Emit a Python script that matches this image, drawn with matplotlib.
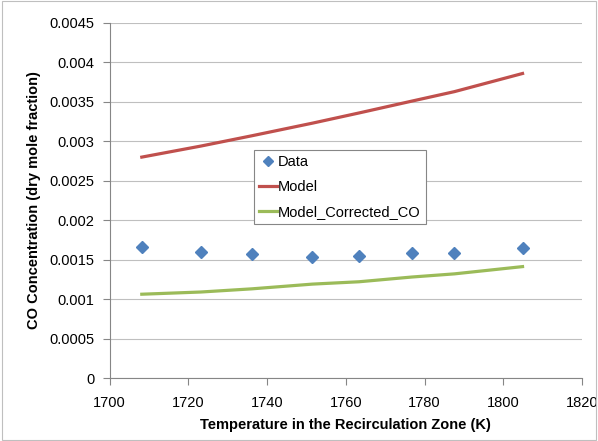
import matplotlib.pyplot as plt
from matplotlib.patches import Rectangle

plt.rcParams['font.family'] = ['Liberation Sans', 'DejaVu Sans']
plt.rcParams['font.size'] = 10

# temperatures of the recirculation zone (K)
temp = [1708.2, 1723.2, 1736.1, 1751.5, 1763.4, 1776.8, 1787.6, 1804.9]
data = [0.001666, 0.001603, 0.00157, 0.00154, 0.00155, 0.00158, 0.00158, 0.001646]
model = [0.00280, 0.00294, 0.00307, 0.00323, 0.00336, 0.00351, 0.00363, 0.00386]
model_corr = [0.001062, 0.00109, 0.00113, 0.00119, 0.00122, 0.00128, 0.00132, 0.001412]

xticks = [1700, 1720, 1740, 1760, 1780, 1800, 1820]
yticks = [0, 0.0005, 0.001, 0.0015, 0.002, 0.0025, 0.003, 0.0035, 0.004, 0.0045]
ylabels = ['0', '0.0005', '0.001', '0.0015', '0.002', '0.0025', '0.003', '0.0035', '0.004', '0.0045']

fig = plt.figure(figsize=(5.98, 4.41), dpi=100)
ax = fig.add_axes([109.5/598, 1-378/441, (582-109.5)/598, (378-23)/441])

# chart area border
fig.patches.append(Rectangle((0.003, 0.003), 0.994, 0.994, transform=fig.transFigure,
                             fill=False, edgecolor='#bfbfbf', lw=0.8))

ax.plot(temp, data, 'D', color='#4f81bd', ms=6.5, label='Data', zorder=3)
ax.plot(temp, model, color='#c0504d', lw=2.3, label='Model')
ax.plot(temp, model_corr, color='#9bbb59', lw=2.3, label='Model_Corrected_CO')

ax.set_xlim(1700, 1820)
ax.set_ylim(0, 0.0045)
ax.set_xticks(xticks)
ax.set_yticks(yticks)
ax.set_yticklabels(ylabels)
ax.yaxis.grid(True, color='#bfbfbf', lw=0.8)
ax.set_axisbelow(True)
for s in ['top', 'right']:
    ax.spines[s].set_visible(False)
for s in ['left', 'bottom']:
    ax.spines[s].set_color('#868686')
ax.tick_params(axis='both', direction='out', length=5, color='#868686', labelsize=10.5, pad=3)
ax.tick_params(axis='y', pad=6)
ax.tick_params(axis='x', pad=8)

ax.set_xlabel('Temperature in the Recirculation Zone (K)', fontweight='bold', fontsize=10.5, labelpad=6)
ax.set_ylabel('CO Concentration (dry mole fraction)', fontweight='bold', fontsize=10.5, labelpad=6)

leg = ax.legend(loc='upper left', bbox_to_anchor=(254/598, 1-150/441), bbox_transform=fig.transFigure,
                fancybox=False, edgecolor='#868686', framealpha=1, fontsize=10.5,
                handlelength=1.2, handletextpad=0.1, borderpad=0.35, labelspacing=0.75,
                borderaxespad=0, markerscale=0.8)
leg.get_frame().set_linewidth(0.8)

plt.savefig('out.png', dpi=100)
